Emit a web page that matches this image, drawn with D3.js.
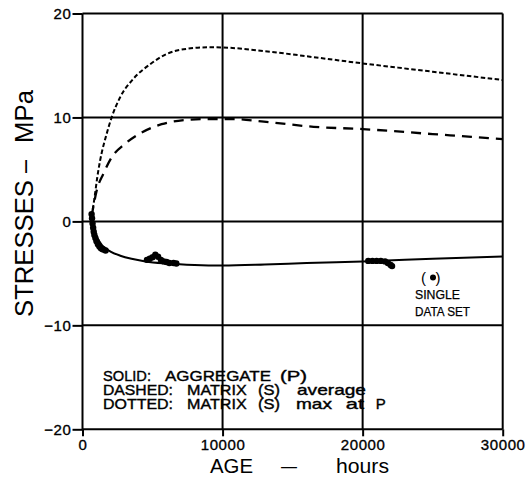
<!DOCTYPE html>
<html>
<head>
<meta charset="utf-8">
<script src="https://cdn.jsdelivr.net/npm/d3@7"></script>
<style>
  html, body { margin: 0; padding: 0; background: #fff; }
  svg { display: block; }
  text { font-family: "Liberation Sans", Arial, sans-serif; fill: #000; }
</style>
</head>
<body>
<svg id="chart" width="528" height="479"></svg>
<script>
// ---- data ----
const xTicks = [0, 10000, 20000, 30000];
const yTicks = [-20, -10, 0, 10, 20];

// solid: aggregate (P) fitted curve
const solidAge   = [600, 750, 900, 1100, 1400, 2000, 2700, 3500, 4500, 6000, 8000, 10000, 13000, 16000, 20000, 25000, 30000];
const solidVal   = [0.8, -0.3, -1.1, -1.7, -2.3, -2.9, -3.3, -3.6, -3.85, -4.05, -4.2, -4.25, -4.15, -4.0, -3.85, -3.6, -3.37];

// dashed: matrix (S) average
const dashedAge  = [650, 800, 1010, 1480, 2080, 3030, 4220, 5650, 7310, 8740, 10750, 12950, 16500, 20000, 25000, 30000];
const dashedVal  = [0.5, 1.6, 2.95, 4.55, 6.15, 7.45, 8.55, 9.35, 9.75, 9.85, 9.85, 9.6, 9.1, 8.88, 8.4, 7.92];

// dotted: matrix (S) max at P
const dottedAge  = [650, 750, 890, 1050, 1250, 1720, 2080, 2670, 3620, 4810, 6000, 7430, 9000, 10500, 12900, 16500, 20000, 25000, 30000];
const dottedVal  = [0.5, 1.3, 2.6, 4.2, 5.8, 8.4, 10.0, 11.9, 13.7, 15.1, 16.1, 16.6, 16.75, 16.7, 16.4, 15.8, 15.2, 14.4, 13.6];

// measured single data sets (aggregate)
const pointAge   = [650, 680, 720, 760, 800, 850, 920, 1000, 1100, 1200, 1300, 1400, 1500, 1650,
                    4600, 4800, 5000, 5200, 5400, 5600, 5800, 6000, 6200, 6500, 6700,
                    20400, 20700, 21000, 21300, 21600, 21800, 22000, 22100];
const pointVal   = [0.7, 0.3, -0.2, -0.6, -1.0, -1.3, -1.6, -1.9, -2.2, -2.4, -2.55, -2.65, -2.7, -2.8,
                    -3.7, -3.6, -3.45, -3.2, -3.4, -3.7, -3.85, -3.9, -4.0, -4.0, -4.05,
                    -3.8, -3.8, -3.8, -3.8, -3.85, -4.0, -4.2, -4.3];

const legendLines = [
  ["SOLID:", "AGGREGATE", "(P)"],
  ["DASHED:", "MATRIX", "(S)", "average"],
  ["DOTTED:", "MATRIX", "(S)", "max", "at", "P"]
];
const xTitleParts = ["AGE", "\u2013", "hours"];
const yTitleParts = ["STRESSES", "\u2013", "MPa"];

// ---- drawing ----
const svg = d3.select("#chart");
const x = d3.scaleLinear().domain([0, 30000]).range([82.5, 502.7]);
const y = d3.scaleLinear().domain([-20, 20]).range([429.3, 13.5]);
const fmt = d => d < 0 ? "\u2212" + Math.abs(d) : String(d);

// grid lines
svg.append("g").selectAll("line").data(yTicks).join("line")
  .attr("x1", x(0)).attr("x2", x(30000))
  .attr("y1", d => y(d)).attr("y2", d => y(d))
  .attr("stroke", "#000").attr("stroke-width", 2);
svg.append("g").selectAll("line").data(xTicks).join("line")
  .attr("x1", d => x(d)).attr("x2", d => x(d))
  .attr("y1", y(20)).attr("y2", y(-20))
  .attr("stroke", "#000").attr("stroke-width", 2);

// axes (ticks + labels)
const yAxis = svg.append("g").attr("transform", `translate(${x(0)},0)`)
  .call(d3.axisLeft(y).tickValues(yTicks).tickSize(10).tickPadding(1).tickFormat(fmt));
const xAxis = svg.append("g").attr("transform", `translate(0,${y(-20)})`)
  .call(d3.axisBottom(x).tickValues(xTicks).tickSize(7).tickPadding(3).tickFormat(d => String(d)));
[yAxis, xAxis].forEach(g => {
  g.select(".domain").remove();
  g.selectAll(".tick line").attr("stroke", "#000").attr("stroke-width", 2);
  g.selectAll(".tick text")
    .style("font-family", '"Liberation Sans", Arial, sans-serif')
    .attr("font-size", 15).attr("letter-spacing", 0.6)
    .attr("fill", "#000").attr("stroke", "#000").attr("stroke-width", 0.35);
});

// curves
const lineGen = d3.line().x(d => x(d[0])).y(d => y(d[1])).curve(d3.curveMonotoneX);
const zip = (a, b) => a.map((v, i) => [v, b[i]]);

svg.append("path").datum(zip(dottedAge, dottedVal)).attr("d", lineGen)
  .attr("fill", "none").attr("stroke", "#000").attr("stroke-width", 2)
  .attr("stroke-dasharray", "4.5,2.5");
svg.append("path").datum(zip(dashedAge, dashedVal)).attr("d", lineGen)
  .attr("fill", "none").attr("stroke", "#000").attr("stroke-width", 2.3)
  .attr("stroke-dasharray", "10,7");
svg.append("path").datum(zip(solidAge, solidVal)).attr("d", lineGen)
  .attr("fill", "none").attr("stroke", "#000").attr("stroke-width", 2);

// data points
svg.append("g").selectAll("circle").data(zip(pointAge, pointVal)).join("circle")
  .attr("cx", d => x(d[0])).attr("cy", d => y(d[1])).attr("r", 3.2)
  .attr("fill", "#000");

// single data set symbol
const sym = svg.append("g");
sym.append("text").attr("x", 421).attr("y", 283).attr("font-size", 15).text("(");
sym.append("circle").attr("cx", 433).attr("cy", 277.5).attr("r", 3).attr("fill", "#000");
sym.append("text").attr("x", 435.5).attr("y", 283).attr("font-size", 15).text(")");
sym.append("text").attr("x", 415).attr("y", 298.5).attr("font-size", 13)
  .attr("stroke", "#000").attr("stroke-width", 0.25)
  .attr("textLength", 45).attr("lengthAdjust", "spacingAndGlyphs").text("SINGLE");
sym.append("text").attr("x", 415).attr("y", 315.5).attr("font-size", 13)
  .attr("stroke", "#000").attr("stroke-width", 0.25)
  .attr("textLength", 55).attr("lengthAdjust", "spacingAndGlyphs").text("DATA SET");

// legend (word start / end positions in px)
const legendX = [
  [[103, 151], [165, 271], [280, 307]],
  [[103, 173], [187, 246.7], [258, 280], [297, 366]],
  [[103, 173], [187, 246.7], [258, 280], [296, 332], [345.7, 364], [375.7, 385.7]]
];
const legendY = [381, 395, 409];
legendLines.forEach((words, i) => {
  words.forEach((w, j) => {
    const [a, b] = legendX[i][j];
    svg.append("text").attr("x", a).attr("y", legendY[i]).attr("font-size", 15)
      .attr("stroke", "#000").attr("stroke-width", 0.4)
      .attr("textLength", b - a).attr("lengthAdjust", "spacingAndGlyphs").text(w);
  });
});

// axis titles
const xTitlePos = [[210, 253], [281, 297], [336, 389]];
xTitleParts.forEach((w, j) => {
  const [a, b] = xTitlePos[j];
  svg.append("text").attr("x", a).attr("y", 473).attr("font-size", 21)
    .attr("textLength", b - a).attr("lengthAdjust", "spacingAndGlyphs").text(w);
});
// rotated: positions measured along page y (bottom -> top)
const yTitlePos = [[317, 180], [173, 160], [143, 90]];
yTitleParts.forEach((w, j) => {
  const [a, b] = yTitlePos[j];
  svg.append("text").attr("transform", "translate(33,0) rotate(-90)")
    .attr("x", -a).attr("y", 0).attr("font-size", 25)
    .attr("textLength", a - b).attr("lengthAdjust", "spacingAndGlyphs").text(w);
});
</script>
</body>
</html>
